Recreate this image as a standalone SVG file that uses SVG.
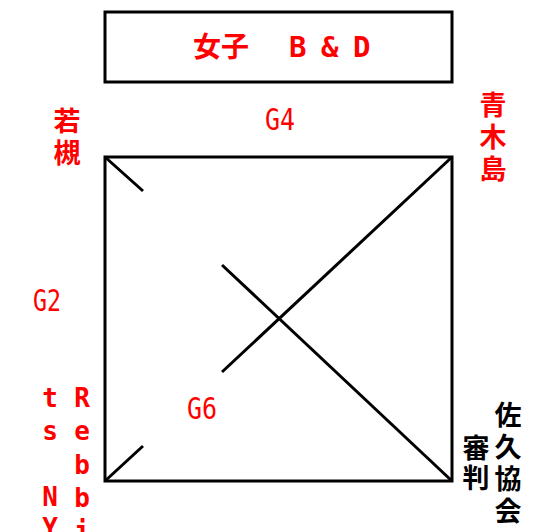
<svg xmlns="http://www.w3.org/2000/svg" width="554" height="532" viewBox="0 0 554 532">
<style>
.box{fill:#fff;stroke:#000;stroke-width:3}
.ln{stroke:#000;stroke-width:3;fill:none}
.t{font-family:"DejaVu Sans Mono","Noto Sans CJK JP",monospace}
.cj{font-family:"Noto Sans CJK JP","DejaVu Sans",sans-serif;font-weight:700;font-size:27px}
.v{writing-mode:vertical-rl;letter-spacing:5px}
.red{fill:#f00}
.blk{fill:#000}
.lat{font-size:26px;font-weight:700;text-anchor:middle}
.g{font-size:31px}
</style>
<rect width="554" height="532" fill="#fff"/>
<g id="title">
<rect class="box" x="105" y="12" width="347" height="70"/>
<text class="t red" font-size="29" font-weight="700" y="57"><tspan x="193" class="cj" style="font-size:28px">女子</tspan><tspan x="255">　</tspan><tspan x="289">B</tspan><tspan x="305"> </tspan><tspan x="321">&amp;</tspan><tspan x="337"> </tspan><tspan x="353">D</tspan></text>
</g>
<g id="connectors">
<rect class="ln" x="105" y="157" width="347" height="324"/>
<line class="ln" x1="105" y1="157" x2="143" y2="191"/>
<line class="ln" x1="105" y1="481" x2="143" y2="446"/>
<line class="ln" x1="452" y1="157" x2="222" y2="372"/>
<line class="ln" x1="222" y1="265" x2="452" y2="481"/>
</g>
<g id="wakatsuki">
<text class="cj v red" x="67" y="107">若槻</text>
</g>
<g id="aokijima">
<text class="cj v red" x="493" y="91">青木島</text>
</g>
<g id="saku">
<text class="cj v blk" x="508" y="401">佐久協会</text>
<text class="cj v blk" x="476" y="434" style="letter-spacing:3px">審判</text>
</g>
<g id="rebbits">
<text class="t lat red" x="82" y="407">R</text>
<text class="t lat red" x="82" y="440">e</text>
<text class="t lat red" x="82" y="474">b</text>
<text class="t lat red" x="82" y="507">b</text>
<text class="t lat red" x="82" y="540">i</text>
<text class="t lat red" x="50" y="407">t</text>
<text class="t lat red" x="50" y="440">s</text>
<text class="t lat red" x="50" y="506">N</text>
<text class="t lat red" x="50" y="537">Y</text>
</g>
<g id="games">
<text class="t g red" x="265" y="130" textLength="30" lengthAdjust="spacingAndGlyphs">G4</text>
<text class="t g red" x="33" y="311" textLength="28" lengthAdjust="spacingAndGlyphs">G2</text>
<text class="t g red" x="187" y="419" textLength="30" lengthAdjust="spacingAndGlyphs">G6</text>
</g>
</svg>
